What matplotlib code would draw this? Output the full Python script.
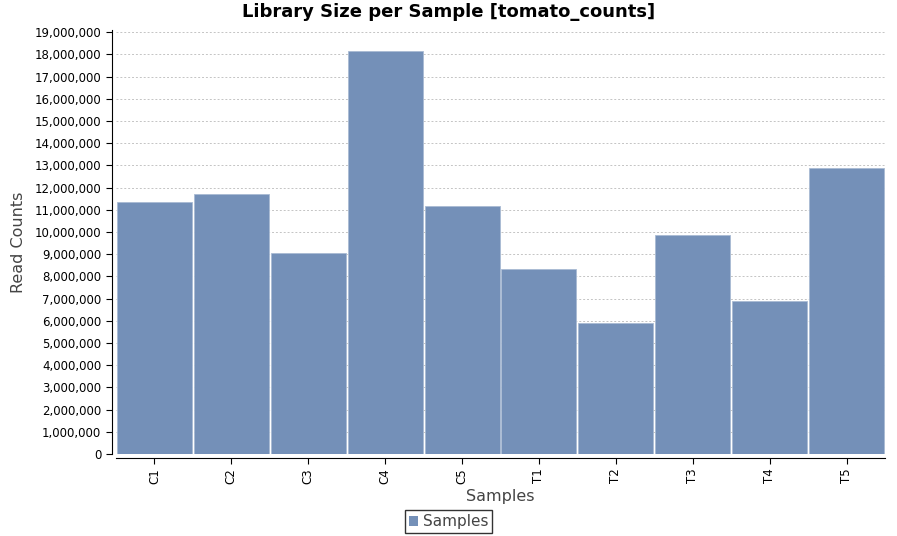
import matplotlib.pyplot as plt
from matplotlib.ticker import FuncFormatter, MultipleLocator
from matplotlib.patches import Patch

samples = ["C1", "C2", "C3", "C4", "C5", "T1", "T2", "T3", "T4", "T5"]
read_counts = [11360000, 11720000, 9040000, 18140000, 11150000,
               8340000, 5910000, 9880000, 6890000, 12900000]

bar_color = "#7490b8"
label_color = "#444444"

fig = plt.figure(figsize=(8.97, 5.36), dpi=100)
ax = fig.add_axes([116 / 897, (536 - 454) / 536, (885 - 116) / 897, (454 - 30) / 536])

x = range(len(samples))
ax.bar(x, read_counts, width=0.975, color=bar_color, edgecolor="#a9bbd3", linewidth=0.6, zorder=2)

ax.set_xlim(-0.5, len(samples) - 0.5)
ax.set_ylim(0, 19100000)
ax.yaxis.set_major_locator(MultipleLocator(1000000))
ax.yaxis.set_major_formatter(FuncFormatter(lambda v, p: f"{int(v):,}"))
ax.set_xticks(list(x))
ax.set_xticklabels(samples)
ax.tick_params(axis="both", labelsize=8.5, length=4, color="black")
ax.tick_params(axis="x", labelrotation=90, pad=3)

ax.grid(axis="y", color="#c4c4c4", linestyle=(0, (2, 2)), linewidth=0.7, zorder=0)
for s in ["top", "right"]:
    ax.spines[s].set_visible(False)
ax.spines["left"].set_position(("outward", 3))
ax.spines["bottom"].set_position(("outward", 3))

# title is centred on the whole figure, not the axes
fig.text(0.5, 1 - 12 / 536, "Library Size per Sample [tomato_counts]",
         ha="center", va="center", fontsize=13, fontweight="bold")
ax.set_ylabel("Read Counts", fontsize=11.5, color=label_color, labelpad=6)
ax.set_xlabel("Samples", fontsize=11.5, color=label_color, labelpad=4)

handle = Patch(facecolor=bar_color, edgecolor="none", label="Samples")
leg = fig.legend(handles=[handle], loc="lower center", bbox_to_anchor=(0.5, 0.0),
                 fontsize=11, frameon=True, fancybox=False, handlelength=0.6,
                 handleheight=0.6, handletextpad=0.3, borderpad=0.25,
                 borderaxespad=0.2, labelcolor=label_color)
leg.get_frame().set_edgecolor("black")
leg.get_frame().set_linewidth(1.0)

fig.savefig("out.png", dpi=100)
